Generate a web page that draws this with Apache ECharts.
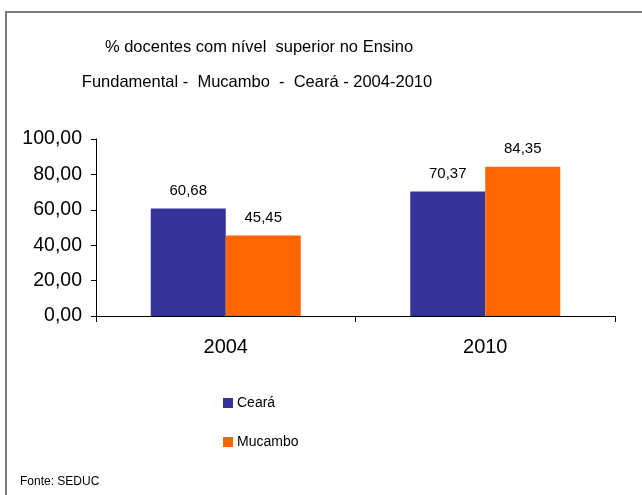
<!DOCTYPE html>
<html><head><meta charset="utf-8">
<script src="https://cdn.jsdelivr.net/npm/echarts@6/dist/echarts.min.js"></script>
<style>html,body{margin:0;padding:0;background:#fff}#c{width:642px;height:495px}</style>
</head><body><div id="c"></div>
<script>
const categories = ['2004', '2010'];
const seriesNames = ['Ceará', 'Mucambo'];
const cearaValues = [60.68, 70.37];
const mucamboValues = [45.45, 84.35];
const yTicks = [0, 20, 40, 60, 80, 100];

const chart = echarts.init(document.getElementById('c'), null, {renderer: 'canvas'});
const fmt = v => Number(v).toFixed(2).replace('.', ',');
const font = 'Liberation Sans, Arial, sans-serif';
chart.setOption({
  animation: false,
  backgroundColor: '#fff',
  textStyle: {fontFamily: font},
  graphic: [
    {type: 'rect', shape: {x: 6, y: 12, width: 700, height: 600}, style: {fill: 'none', stroke: '#7a7a7a', lineWidth: 2}, silent: true},
    {type: 'text', x: 259, y: 39, style: {text: '% docentes com nível  superior no Ensino', font: '16.5px ' + font, fill: '#000', align: 'center'}},
    {type: 'text', x: 257, y: 74, style: {text: 'Fundamental -  Mucambo  -  Ceará - 2004-2010', font: '16.5px ' + font, fill: '#000', align: 'center'}},
    {type: 'text', x: 20, y: 476, style: {text: 'Fonte: SEDUC', font: '12px ' + font, fill: '#000'}}
  ],
  grid: {left: 96, right: 27, top: 139, bottom: 179, containLabel: false},
  legend: {
    data: seriesNames, orient: 'vertical', left: 218, top: 391,
    itemWidth: 10, itemHeight: 10, itemGap: 25, icon: 'rect',
    textStyle: {fontSize: 14, color: '#000', fontFamily: font, padding: [0, 0, 0, -1]}
  },
  xAxis: {
    type: 'category', data: categories,
    axisLine: {lineStyle: {color: '#000', width: 1}},
    axisTick: {show: true, length: 6, lineStyle: {color: '#000'}},
    axisLabel: {fontSize: 20, color: '#000', margin: 21, fontFamily: font}
  },
  yAxis: {
    type: 'value', min: 0, max: 100, interval: 20,
    axisLine: {show: true, lineStyle: {color: '#000'}},
    axisTick: {show: true, length: 5, lineStyle: {color: '#000'}},
    splitLine: {show: false},
    axisLabel: {fontSize: 19.5, color: '#000', margin: 14, fontFamily: font,
      formatter: v => yTicks.includes(v) ? fmt(v) : ''}
  },
  series: [
    {name: seriesNames[0], type: 'bar', data: cearaValues, barWidth: 75, barGap: '0%',
     itemStyle: {color: '#333399'},
     label: {show: true, position: 'top', distance: 10, fontSize: 15, color: '#000', fontFamily: font, formatter: p => fmt(p.value)}},
    {name: seriesNames[1], type: 'bar', data: mucamboValues, barWidth: 75, barGap: '0%',
     itemStyle: {color: '#ff6600'},
     label: {show: true, position: 'top', distance: 10, fontSize: 15, color: '#000', fontFamily: font, formatter: p => fmt(p.value)}}
  ]
});
</script></body></html>
